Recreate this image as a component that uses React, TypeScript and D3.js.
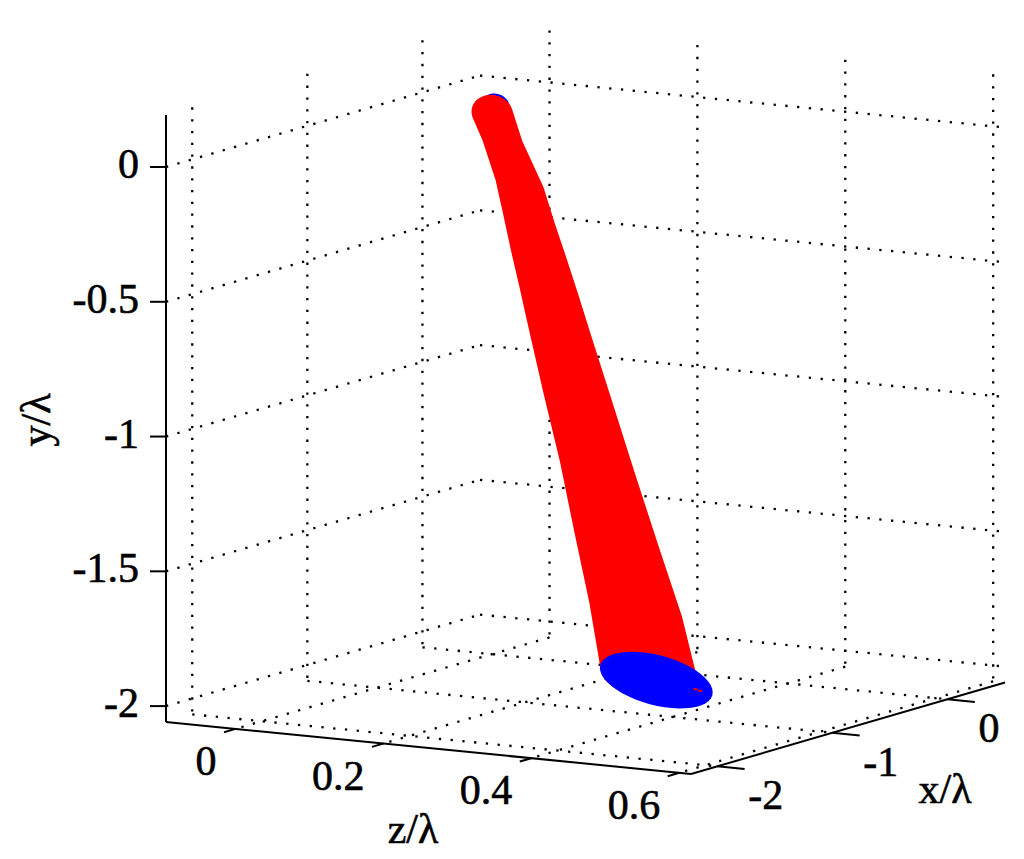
import React from 'react';
import * as d3 from 'd3';

const xTicks = [-2, -1, 0];
const yTicks = [0, -0.5, -1, -1.5, -2];
const zTicks = [0, 0.2, 0.4, 0.6];
const yTickLabels = ['0', '-0.5', '-1', '-1.5', '-2'];
const xTickLabels = ['-2', '-1', '0'];
const zTickLabels = ['0', '0.2', '0.4', '0.6'];

const xLim = [-2.228, 0.5];
const yLim = [-2.059, 0.193];
const zLim = [-0.094, 0.616];

// beam centre line and relative size
const beamY = [0, -0.1, -0.25, -0.375, -0.5, -0.625, -0.75, -1, -1.25, -1.5, -1.75, -2];
const beamX = [-0.306, -0.307, -0.325, -0.348, -0.36, -0.38, -0.406, -0.431, -0.465, -0.501, -0.538, -0.583];
const beamZ = [0.048, 0.062, 0.088, 0.1045, 0.1195, 0.136, 0.153, 0.183, 0.215, 0.246, 0.278, 0.305];
const beamSize = [0.36, 0.36, 0.43, 0.46, 0.5, 0.53, 0.56, 0.62, 0.67, 0.75, 0.83, 0.88];
// the near end of the beam is rounder than the far end
const beamRound = [2, 1.4, 1, 1, 1, 1, 1, 1, 1, 1, 1, 1];

// cross section of the beam in the x-z plane
const sectionU = [-0.211, 0.1086];
const sectionV = [-0.549, 0.0767];

// the two blue end faces: x, y, z, size, roundness
const topFace = [-0.28, 0.022, 0.048, 0.25, 2];
const bottomFace = [-0.57, -2, 0.311, 1, 1];
const speckX = [-0.685, -0.71];
const speckZ = [0.382, 0.392];

const W = 1024;
const H = 859;
const FONT = '"Liberation Serif", serif';
const FS = 42;

const tx = d3.scaleLinear().domain(xLim).range([0, 1]);
const tz = d3.scaleLinear().domain(zLim).range([0, 1]);
const sy = d3.scaleLinear().domain(yLim).range([722, 115]);

// the view is orthographic, so the box is just an affine map
const project = (x: number, y: number, z: number): [number, number] => [
  166 + 314 * tx(x) + 525 * tz(z),
  sy(y) - 91.5 * tx(x) + 52 * tz(z),
];

const line = d3.line();
const seg = (a: [number, number], b: [number, number]) => line([a, b]) as string;

const section = (x: number, y: number, z: number, s: number, r: number) =>
  d3.range(0, 48).map((i) => {
    const t = (i / 48) * 2 * Math.PI;
    const c = Math.cos(t) * s;
    const n = Math.sin(t) * s * r;
    return project(x + c * sectionU[0] + n * sectionV[0], y, z + c * sectionU[1] + n * sectionV[1]);
  });

const closed = (pts: [number, number][]) => d3.line().curve(d3.curveLinearClosed)(pts) as string;

const beamPath = d3.range(beamY.length - 1).map((i) => {
  const a = section(beamX[i], beamY[i], beamZ[i], beamSize[i], beamRound[i]);
  const b = section(beamX[i + 1], beamY[i + 1], beamZ[i + 1], beamSize[i + 1], beamRound[i + 1]);
  return closed(d3.polygonHull([...a, ...b]) as [number, number][]);
}).join('');

export default function App() {
  const grid: string[] = [];
  yTicks.forEach((y) => {
    grid.push(seg(project(xLim[0], y, zLim[0]), project(xLim[1], y, zLim[0])));
    grid.push(seg(project(xLim[1], y, zLim[0]), project(xLim[1], y, zLim[1])));
  });
  xTicks.forEach((x) => {
    grid.push(seg(project(x, yLim[1], zLim[0]), project(x, yLim[0], zLim[0])));
    grid.push(seg(project(x, yLim[0], zLim[0]), project(x, yLim[0], zLim[1])));
  });
  zTicks.forEach((z) => {
    grid.push(seg(project(xLim[1], yLim[1], z), project(xLim[1], yLim[0], z)));
    grid.push(seg(project(xLim[1], yLim[0], z), project(xLim[0], yLim[0], z)));
  });

  const textProps = { fontFamily: FONT, fontSize: FS, fill: '#000', stroke: '#000', strokeWidth: 0.6 };

  return (
    <svg width={W} height={H} viewBox={`0 0 ${W} ${H}`}
      style={{ position: 'absolute', left: 0, top: 0, background: '#fff' }}>
      <g fill="none" stroke="#000" strokeWidth={2.3} strokeDasharray="2.3 9.5">
        {grid.map((d, i) => <path key={i} d={d} />)}
      </g>

      <path d={closed(section(topFace[0], topFace[1], topFace[2], topFace[3], topFace[4]))} fill="#0000ff" />
      <path d={beamPath} fill="#ff0000" />
      <path d={closed(section(bottomFace[0], bottomFace[1], bottomFace[2], bottomFace[3], bottomFace[4]))} fill="#0000ff" />
      {speckX.map((x, i) => {
        const [a, b] = project(x, -2, speckZ[i]);
        return <rect key={i} x={a - 2} y={b - 1} width={4} height={2} fill="#ff0000" />;
      })}

      <g fill="none" stroke="#000" strokeWidth={2}>
        <path d={seg(project(xLim[0], yLim[1], zLim[0]), project(xLim[0], yLim[0], zLim[0]))} />
        <path d={seg(project(xLim[0], yLim[0], zLim[0]), project(xLim[0], yLim[0], zLim[1]))} />
        <path d={seg(project(xLim[0], yLim[0], zLim[1]), project(xLim[1], yLim[0], zLim[1]))} />
        {yTicks.map((y) => {
          const [a, b] = project(xLim[0], y, zLim[0]);
          return <path key={y} d={seg([a - 16, b], [a, b])} />;
        })}
        {zTicks.map((z) => (
          <path key={z} d={seg(project(xLim[0], yLim[0], z), project(xLim[0] - 0.1, yLim[0], z))} />
        ))}
        {xTicks.map((x) => (
          <path key={x} d={seg(project(x, yLim[0], zLim[1]), project(x, yLim[0], zLim[1] + 0.037))} />
        ))}
      </g>

      {yTicks.map((y, i) => {
        const [a, b] = project(xLim[0], y, zLim[0]);
        return <text key={y} x={a - 27} y={b + 11} textAnchor="end" {...textProps}>{yTickLabels[i]}</text>;
      })}
      {zTicks.map((z, i) => {
        const [a, b] = project(xLim[0], yLim[0], z);
        return <text key={z} x={a - 19} y={b + 46} textAnchor="end" {...textProps}>{zTickLabels[i]}</text>;
      })}
      {xTicks.map((x, i) => {
        const [a, b] = project(x, yLim[0], zLim[1]);
        return <text key={x} x={a + 31} y={b + 43} {...textProps}>{xTickLabels[i]}</text>;
      })}

      <text transform="translate(50,420) rotate(-90)" textAnchor="middle" {...textProps}>y/λ</text>
      <text x={413} y={843} textAnchor="middle" {...textProps}>z/λ</text>
      <text x={945} y={803} textAnchor="middle" {...textProps}>x/λ</text>
    </svg>
  );
}
